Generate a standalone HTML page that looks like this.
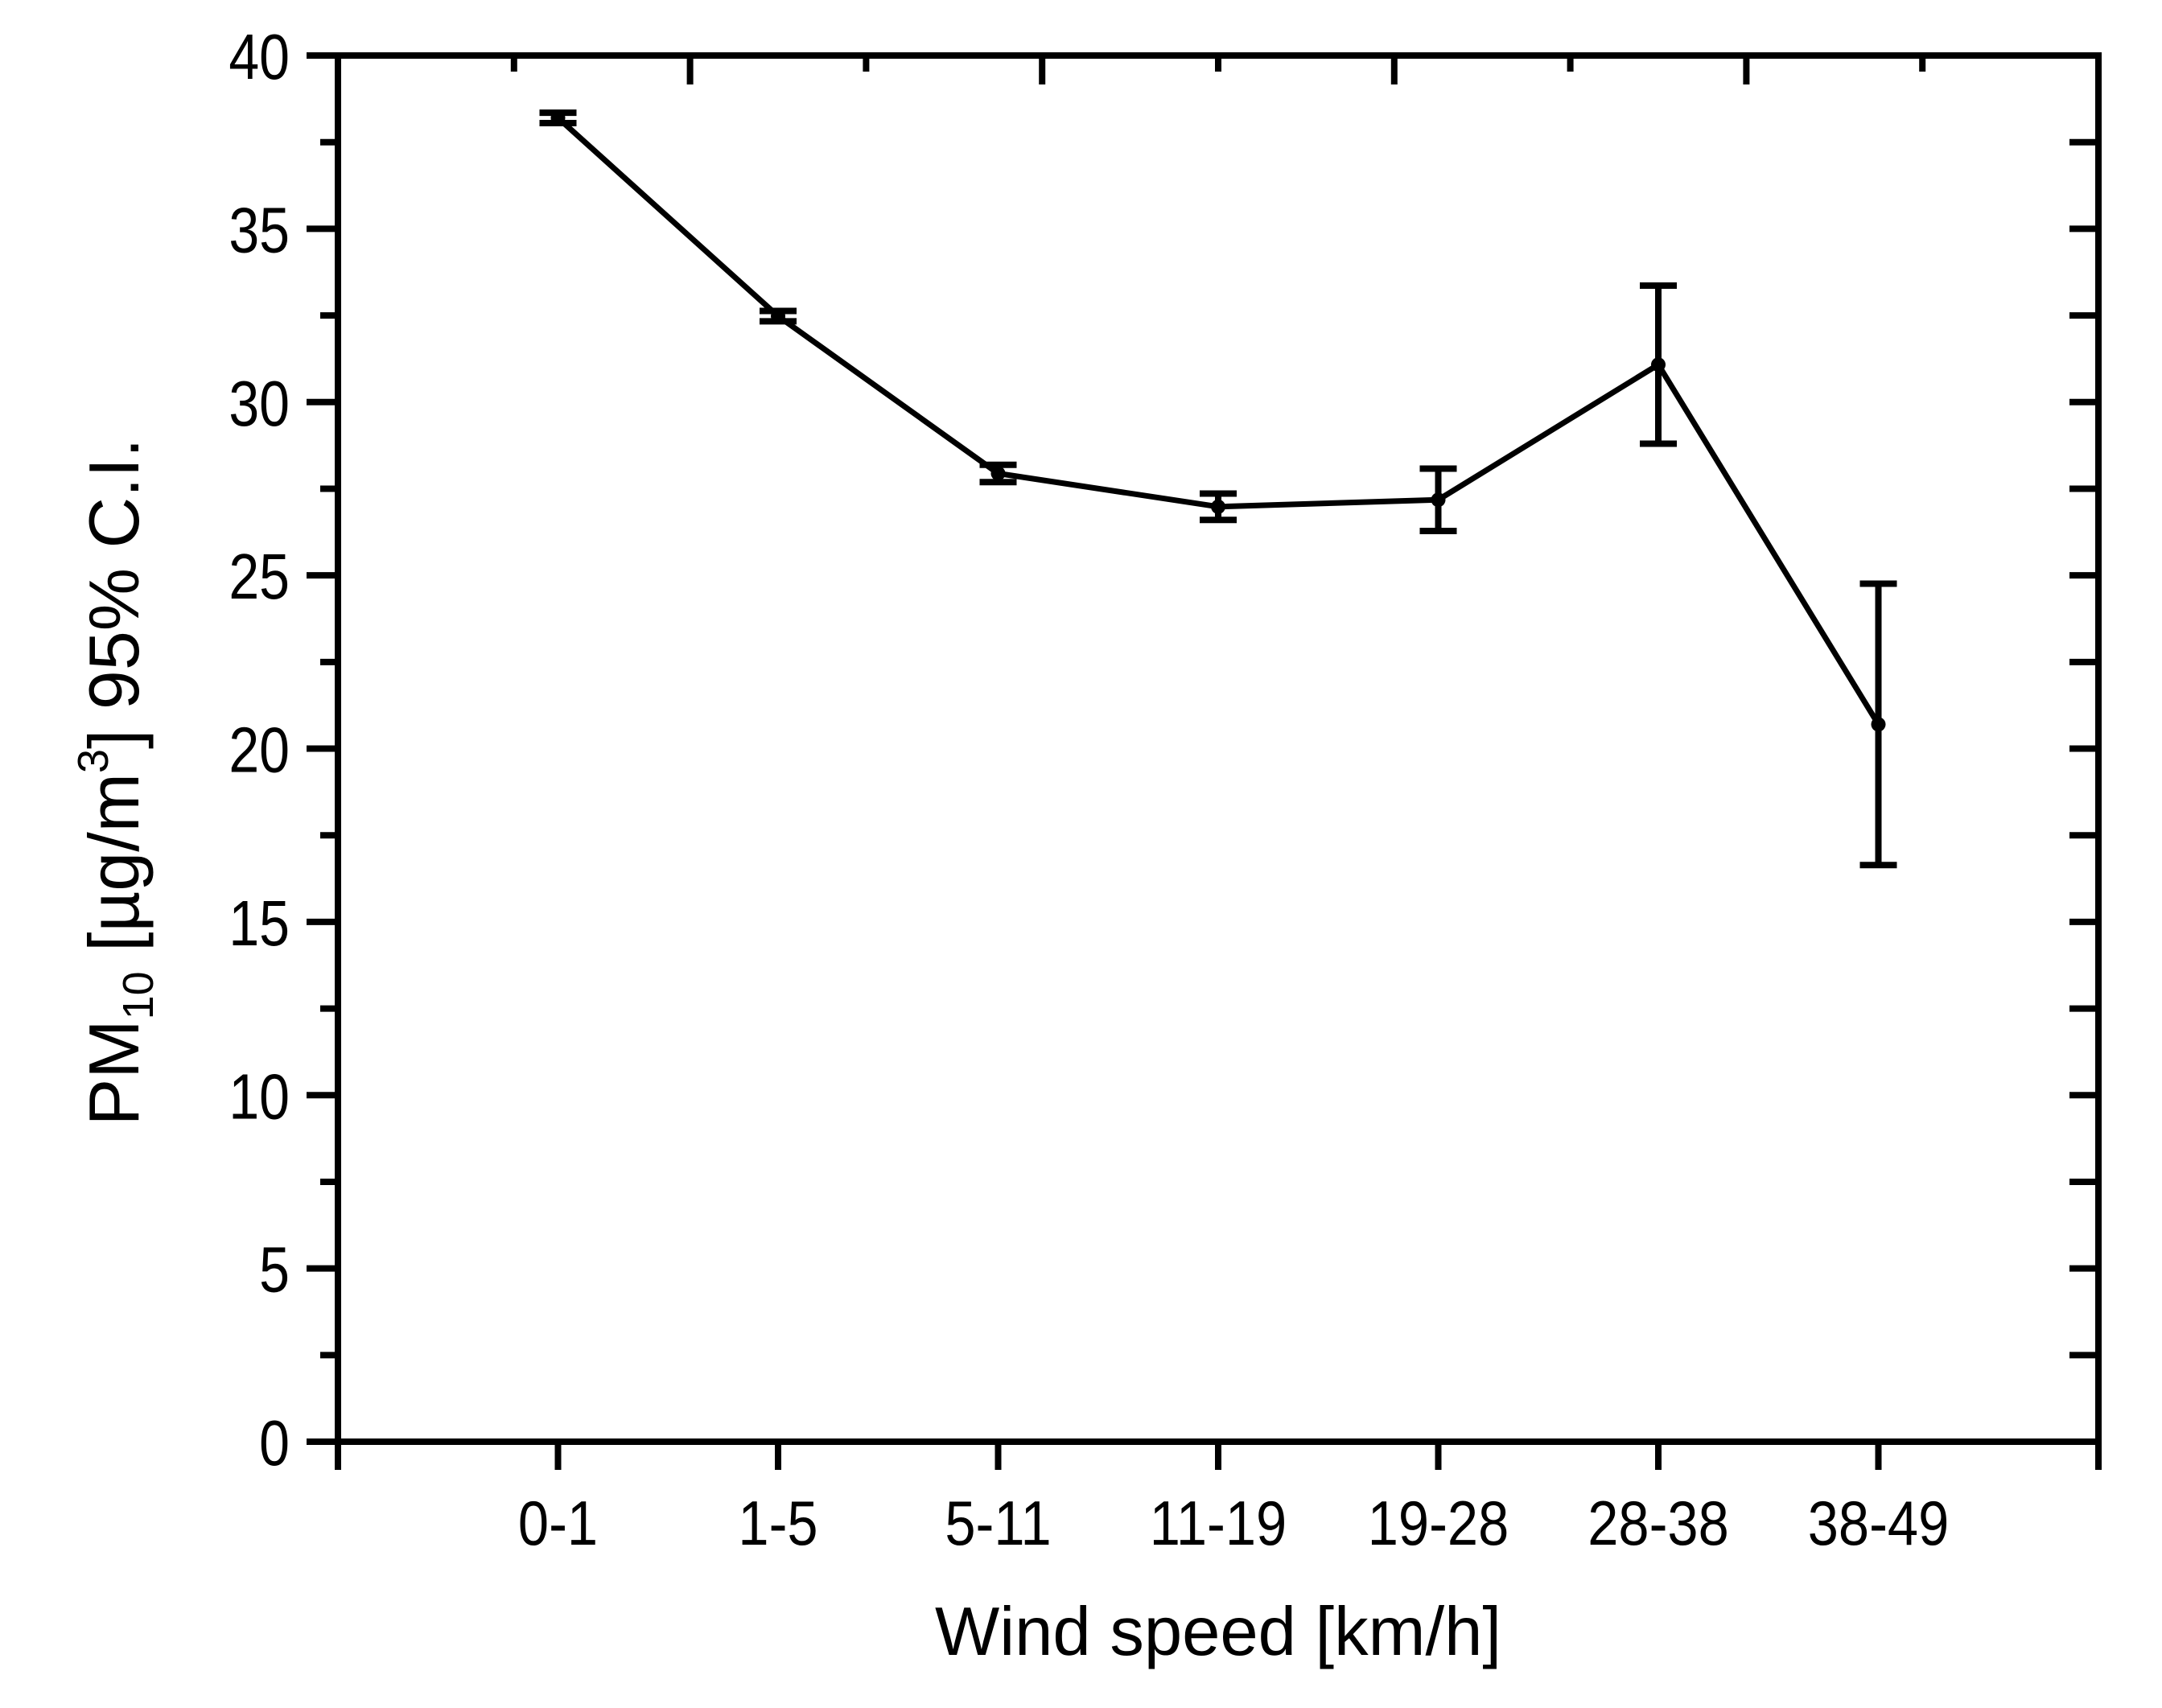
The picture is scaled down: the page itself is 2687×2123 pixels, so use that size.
<!DOCTYPE html>
<html><head><meta charset="utf-8"><style>
html,body{margin:0;padding:0;background:#fff;}
svg text{font-family:"Liberation Sans",Arial,sans-serif;fill:#000;}
</style></head><body>
<svg id="chart" width="2687" height="2118" viewBox="0 0 2687 2118" xmlns="http://www.w3.org/2000/svg">
<rect width="2687" height="2118" fill="#fff"/>
<g id="axes"></g>
<g id="series"></g>
<text x="1514" y="2057" font-size="85" text-anchor="middle">Wind speed [km/h]</text>
<text transform="translate(172 972) rotate(-90)" font-size="88" text-anchor="middle">PM<tspan font-size="54" dy="18">10</tspan><tspan dy="-18"> [µg/m</tspan><tspan font-size="54" dy="-38">3</tspan><tspan dy="38">] 95% C.I.</tspan></text>
</svg>
<script>
const categories = ["0-1","1-5","5-11","11-19","19-28","28-38","38-49"];
const means = [38.2, 32.48, 27.94, 26.98, 27.18, 31.08, 20.7];
const errors = [0.15, 0.15, 0.25, 0.38, 0.9, 2.28, 4.06];
const yTicks = [0,5,10,15,20,25,30,35,40];

const L=420,R=2608,T=69,B=1792;
const xS=i=>L+(i+1)*(R-L)/8;
const yS=v=>B-(v/40)*(B-T);
const NS="http://www.w3.org/2000/svg";
const ax=document.getElementById('axes'), se=document.getElementById('series');
function mk(tag,attrs,parent){const e=document.createElementNS(NS,tag);for(const k in attrs)e.setAttribute(k,attrs[k]);parent.appendChild(e);return e;}
const SW=8;
const frame=mk('rect',{x:L,y:T,width:R-L,height:B-T,fill:'none',stroke:'#000','stroke-width':SW},ax);



for(let v=0;v<=40;v+=2.5){
  const y=yS(v), major=(v%5===0);
  const t=mk('line',{x1:L-(major?39:22),x2:L,y1:y,y2:y,stroke:'#000','stroke-width':SW},ax);
  
  
  const r=mk('line',{x1:R-36,x2:R,y1:y,y2:y,stroke:'#000','stroke-width':SW},ax);
  
  
}
yTicks.forEach(v=>{
  const t=mk('text',{x:0,y:0,'font-size':80,'text-anchor':'end',transform:'translate(360 '+(yS(v)+29)+') scale(0.85 1)'},ax);
  t.textContent=v;
  
  
});
for(let i=-1;i<=7;i++){
  const x=xS(i);
  const t=mk('line',{x1:x,x2:x,y1:B,y2:B+35,stroke:'#000','stroke-width':SW},ax);
  
  
}
for(let k=1;k<10;k++){
  const x=L+k*(R-L)/10;
  const t=mk('line',{x1:x,x2:x,y1:T,y2:T+(k%2===0?36:20),stroke:'#000','stroke-width':SW},ax);
  
  
}
categories.forEach((c,i)=>{
  const t=mk('text',{x:0,y:0,'font-size':78,'text-anchor':'middle',transform:'translate('+xS(i)+' 1920) scale(0.88 1)'},ax);
  t.textContent=c;
  
  
});

const pts=means.map((m,i)=>xS(i)+','+yS(m)).join(' ');
const line=mk('polyline',{points:pts,fill:'none',stroke:'#000','stroke-width':7,'stroke-linejoin':'round'},se);


means.forEach((m,i)=>{
  const x=xS(i), y1=yS(m+errors[i]), y2=yS(m-errors[i]);
  const g=mk('g',{},se);
  
  
  mk('line',{x1:x,x2:x,y1:y1,y2:y2,stroke:'#000','stroke-width':SW},g);
  mk('line',{x1:x-23,x2:x+23,y1:y1,y2:y1,stroke:'#000','stroke-width':SW},g);
  mk('line',{x1:x-23,x2:x+23,y1:y2,y2:y2,stroke:'#000','stroke-width':SW},g);
  const c=mk('circle',{cx:x,cy:yS(m),r:9,fill:'#000'},se);
  
  
});
</script>
</body></html>
